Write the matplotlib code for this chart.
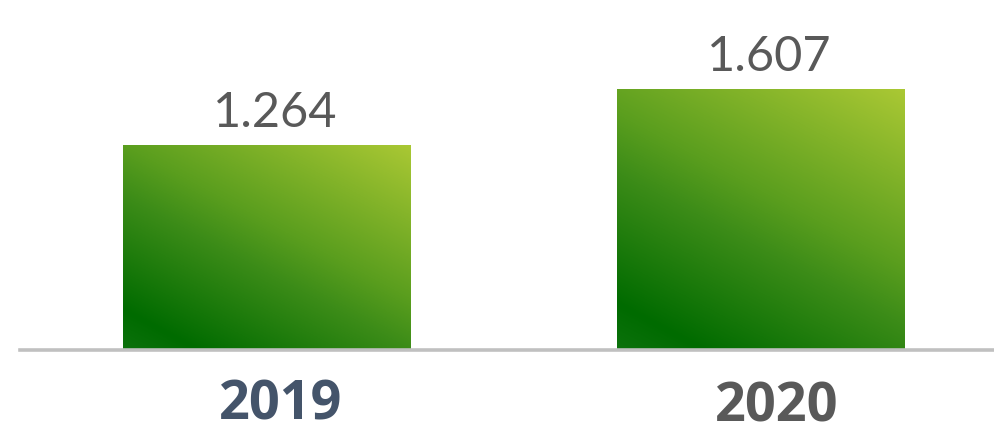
import numpy as np
import matplotlib.pyplot as plt
from matplotlib.colors import LinearSegmentedColormap
from matplotlib.transforms import blended_transform_factory

# Data
years = ['2019', '2020']
values = [1.264, 1.607]
year_colors = ['#44546a', '#595959']

# Gradient green fill, dark at bottom-left, yellow-green at top-right
green_cmap = LinearSegmentedColormap.from_list(
    'green_grad',
    [(0.0, '#0c720c'), (0.11, '#006b00'), (0.43, '#3c8c18'),
     (0.57, '#5a9e1e'), (1.0, '#aac834')])

fig = plt.figure(figsize=(9.95, 4.34), dpi=100)
ax = fig.add_axes([20 / 995, 84 / 434, 975 / 995, 350 / 434])

x = np.arange(len(years))
bars = ax.bar(x, values, width=0.583, color='none', edgecolor='none')

# Fill each bar with a diagonal gradient (angle in pixel space)
theta = np.deg2rad(62)
gu, gv = np.meshgrid(np.linspace(0, 1, 300), np.linspace(0, 1, 300))
for bar in bars:
    w_px, h_px = 288.0, 162.3 * bar.get_height()
    proj = gu * w_px * np.cos(theta) + gv * h_px * np.sin(theta)
    proj = proj / proj.max()
    x0, x1 = bar.get_x(), bar.get_x() + bar.get_width()
    img = ax.imshow(proj, cmap=green_cmap, vmin=0, vmax=1, origin='lower',
                    extent=(x0, x1, 0, bar.get_height()), aspect='auto',
                    interpolation='bilinear', zorder=2)
    img.set_clip_path(bar)

# Value labels above bars
for xi, v in zip(x, values):
    ax.annotate(f'{v:.3f}', (xi, v), xytext=(6, 13), textcoords='offset points',
                ha='center', va='baseline', fontsize=35, color='#595959',
                family='Lato')

# Year labels below the baseline
trans = blended_transform_factory(ax.transData, fig.transFigure)
year_y = [15 / 434, 12 / 434]
year_dx = [0.027, 0.032]
for xi, yr, c, yy, dx in zip(x, years, year_colors, year_y, year_dx):
    ax.text(xi + dx, yy, yr, transform=trans, ha='center', va='baseline',
            fontsize=39, fontweight='bold', color=c, family='Open Sans')

ax.set_xlim(-0.5, 1.474)
ax.set_ylim(0, 350 / 162.3)
for side in ['top', 'left', 'right']:
    ax.spines[side].set_visible(False)
ax.spines['bottom'].set_color('#c0c0c0')
ax.spines['bottom'].set_linewidth(2.6)
ax.spines['bottom'].set_zorder(3)
ax.set_xticks([])
ax.set_yticks([])
ax.patch.set_alpha(0)

fig.savefig('out.png', dpi=100)
